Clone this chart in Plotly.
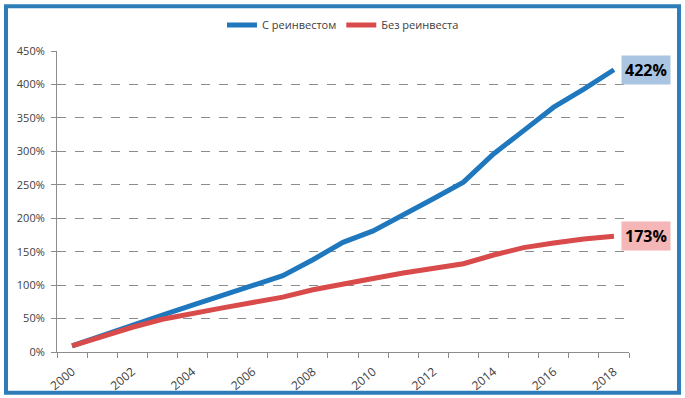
import plotly.graph_objects as go

years = list(range(2000, 2019))
reinvest = [9, 25, 40, 55, 70, 85, 100, 114, 138, 164, 181, 204, 229, 254, 296, 331, 366, 393, 422]
no_reinvest = [9, 23, 37, 49, 58, 66, 74, 82, 93, 102, 110, 118, 125, 132, 145, 156, 163, 169, 173]
tick_years = list(range(2000, 2019, 2))
y_ticks = list(range(0, 451, 50))

blue = "#1F78BE"
red = "#D94A4A"
font = "Open Sans"

fig = go.Figure()
fig.add_trace(go.Scatter(x=years, y=reinvest, mode="lines", name="С реинвестом",
                         line=dict(color=blue, width=5)))
fig.add_trace(go.Scatter(x=years, y=no_reinvest, mode="lines", name="Без реинвеста",
                         line=dict(color=red, width=5)))

W, H = 685, 398
ml, mr, mt, mb = 57, 56, 50, 46
pw, ph = W - ml - mr, H - mt - mb

fig.update_layout(
    width=W, height=H,
    margin=dict(l=ml, r=mr, t=mt, b=mb),
    paper_bgcolor="white", plot_bgcolor="white",
    font=dict(family=font, size=11, color="#404040"),
    showlegend=True,
    legend=dict(orientation="h", x=0.5, xanchor="center", y=1.0 + 25 / ph, yanchor="middle",
                font=dict(size=11, color="#404040"), itemwidth=30, tracegroupgap=0),
    xaxis=dict(range=[1999.5, 2018.5], tickmode="array", tickvals=tick_years,
               ticktext=[str(t) for t in tick_years], tickangle=-40, automargin=False,
               ticks="outside", ticklen=7, tickcolor="rgba(0,0,0,0)",
               showgrid=False, showline=True, linecolor="#8c8c8c", linewidth=1,
               zeroline=False, tickfont=dict(size=12, color="#404040"),
               minor=dict(tickmode="linear", tick0=1999.5, dtick=1, ticks="outside",
                          ticklen=5, tickcolor="#8c8c8c", showgrid=False)),
    yaxis=dict(range=[0, 450], tickmode="array", tickvals=y_ticks, automargin=False,
               ticktext=[f"{v}%" for v in y_ticks], ticklabelstandoff=4,
               showgrid=True, gridcolor="#8c8c8c", griddash="dash", gridwidth=1,
               showline=True, linecolor="#8c8c8c", linewidth=1, zeroline=False,
               ticks="outside", ticklen=5, tickcolor="#8c8c8c",
               tickfont=dict(size=11, color="#404040")),
)

fig.add_annotation(x=years[-1], y=reinvest[-1], text=f"<b>{reinvest[-1]}%</b>",
                   showarrow=False, xanchor="left", yanchor="middle", xshift=7,
                   bgcolor="#A9C5E2", borderpad=3,
                   font=dict(size=16, color="black", family=font))
fig.add_annotation(x=years[-1], y=no_reinvest[-1], text=f"<b>{no_reinvest[-1]}%</b>",
                   showarrow=False, xanchor="left", yanchor="middle", xshift=7,
                   bgcolor="#F4B6B6", borderpad=3,
                   font=dict(size=16, color="black", family=font))

# chart frame
fig.add_shape(type="rect", xref="paper", yref="paper",
              x0=(6 - ml) / pw, x1=(679 - ml) / pw,
              y0=(H - mb - 393) / ph, y1=(H - mb - 5) / ph,
              line=dict(color="#2E7DB8", width=4), fillcolor="rgba(0,0,0,0)", layer="below")

fig.write_html("out.html", config={"displayModeBar": False},
               post_script="document.body.style.margin='0';")
